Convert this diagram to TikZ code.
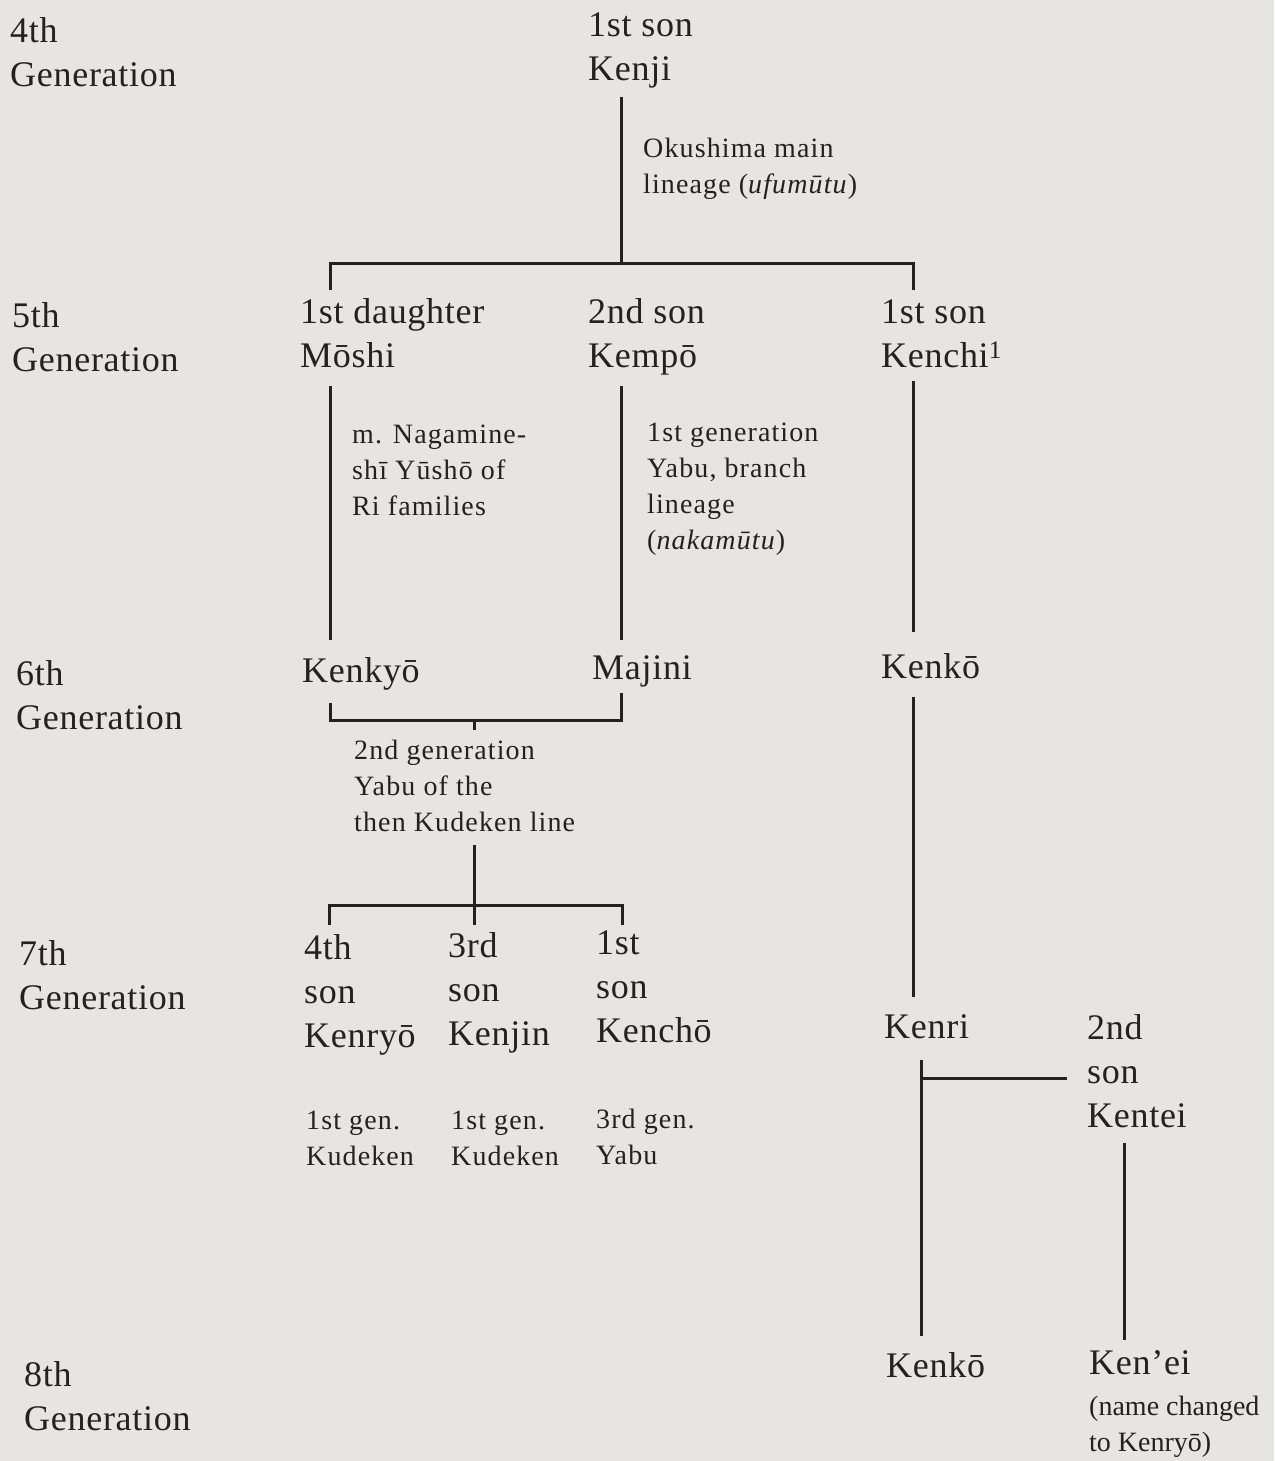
\documentclass[tikz,border=0pt]{standalone}
\usepackage{fontspec}
\setmainfont{Liberation Serif}
\newfontfamily\bigf[LetterSpace=2]{Liberation Serif}
\newfontfamily\smallf[LetterSpace=4]{Liberation Serif}
\definecolor{bg}{RGB}{230,229,226}
\definecolor{ink}{RGB}{38,33,30}
\begin{document}
\begin{tikzpicture}[x=1pt,y=-1pt,
  lab/.style={anchor=north west, inner sep=0pt, align=left, text=ink, font=\bigf\fontsize{36}{44}\selectfont},
  note/.style={anchor=north west, inner sep=0pt, align=left, text=ink, font=\smallf\fontsize{28}{36}\selectfont},
  plain/.style={anchor=north west, inner sep=0pt, align=left, text=ink, font=\fontsize{28}{36}\selectfont},
  link/.style={draw=ink, line width=3pt}]
\fill[bg] (0,0) rectangle (1274,1461);
\useasboundingbox (0,0) rectangle (1274,1461);

% generation labels
\node[lab] (g4) at (10,17) {4th\\Generation};
\node[lab] (g5) at (12,302) {5th\\Generation};
\node[lab] (g6) at (16,660) {6th\\Generation};
\node[lab] (g7) at (19,940) {7th\\Generation};
\node[lab] (g8) at (24,1361) {8th\\Generation};

% persons
\node[lab] (kenji) at (588,13) {1st son\\Kenji};
\node[lab] (moshi) at (300,298) {1st daughter\\Mōshi};
\node[lab] (kempo) at (588,298) {2nd son\\Kempō};
\node[lab] (kenchi) at (881,300) {1st son\\Kenchi\textsuperscript{1}};
\node[lab] (kenkyo) at (302,657) {Kenkyō};
\node[lab] (majini) at (592,655) {Majini};
\node[lab] (kenko6) at (881,653) {Kenkō};
\node[lab] (kenryo) at (304,934) {4th\\son\\Kenryō};
\node[lab] (kenjin) at (448,932) {3rd\\son\\Kenjin};
\node[lab] (kencho) at (596,931) {1st\\son\\Kenchō};
\node[lab] (kenri) at (884,1014) {Kenri};
\node[lab] (kentei) at (1087,1014) {2nd\\son\\Kentei};
\node[lab] (kenko8) at (886,1352) {Kenkō};
\node[lab] (kenei) at (1089,1350) {Ken’ei};
\node[plain] (renamed) at (1089,1396) {(name changed\\to Kenryō)};

% notes
\node[note] (n1) at (643,138) {Okushima main\\lineage (\textit{ufumūtu})};
\node[note] (n2) at (352,425) {m. Nagamine-\\shī Yūshō of\\Ri families};
\node[note] (n3) at (647,423) {1st generation\\Yabu, branch\\lineage\\(\textit{nakamūtu})};
\node[note] (n4) at (354,740) {2nd generation\\Yabu of the\\then Kudeken line};
\node[note] (n5) at (306,1111) {1st gen.\\Kudeken};
\node[note] (n6) at (451,1111) {1st gen.\\Kudeken};
\node[note] (n7) at (596,1109) {3rd gen.\\Yabu};

% junction coordinates
\coordinate (a0) at (621,97);
\coordinate (a1) at (621,263);
\coordinate (aL) at (330,263);
\coordinate (aR) at (913,263);
\coordinate (aLd) at (330,290);
\coordinate (aRd) at (913,290);

\coordinate (m0) at (330,386);
\coordinate (m1) at (330,640);
\coordinate (k0) at (621,386);
\coordinate (k1) at (621,640);
\coordinate (c0) at (913,381);
\coordinate (c1) at (913,632);

\coordinate (b0) at (330,703);
\coordinate (b1) at (330,720);
\coordinate (b2) at (621,720);
\coordinate (b3) at (621,693);
\coordinate (bt) at (474,720);
\coordinate (bt1) at (474,730);

\coordinate (d0) at (474,845);
\coordinate (d1) at (474,905);
\coordinate (d2) at (474,925);
\coordinate (dL) at (329,905);
\coordinate (dR) at (622,905);
\coordinate (dLd) at (329,925);
\coordinate (dRd) at (622,925);

\coordinate (e0) at (913,697);
\coordinate (e1) at (913,997);

\coordinate (f0) at (921,1060);
\coordinate (f1) at (921,1336);
\coordinate (fj) at (921,1078);
\coordinate (fk) at (1067,1078);

\coordinate (h0) at (1124,1143);
\coordinate (h1) at (1124,1340);

% connectors
\draw[link] (a0) -- (a1);
\draw[link] (aLd) -- (aL) -- (aR) -- (aRd);
\draw[link] (m0) -- (m1);
\draw[link] (k0) -- (k1);
\draw[link] (c0) -- (c1);
\draw[link] (b0) -- (b1) -- (b2) -- (b3);
\draw[link] (bt) -- (bt1);
\draw[link] (d0) -- (d2);
\draw[link] (dLd) -- (dL) -- (dR) -- (dRd);
\draw[link] (e0) -- (e1);
\draw[link] (f0) -- (f1);
\draw[link] (fj) -- (fk);
\draw[link] (h0) -- (h1);
\end{tikzpicture}
\end{document}
